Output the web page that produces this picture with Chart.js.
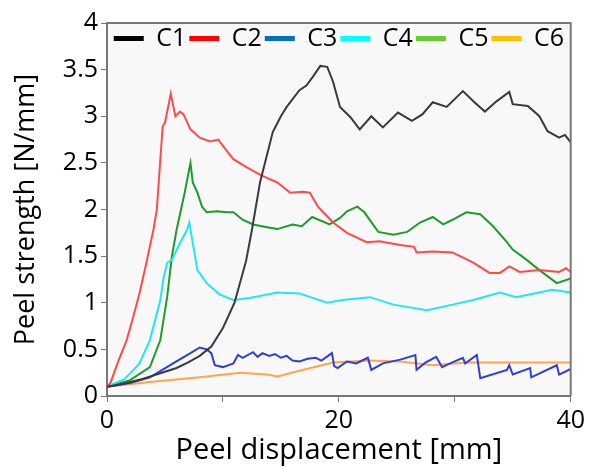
<!DOCTYPE html>
<html>
<head>
<meta charset="utf-8">
<script src="https://cdn.jsdelivr.net/npm/chart.js@4"></script>
<style>
  html, body { margin: 0; padding: 0; background: #fff; }
  #wrap { width: 589px; height: 468px; }
</style>
</head>
<body>
<div id="wrap"><canvas id="myChart" width="589" height="468"></canvas></div>
<script>
// values
const seriesNames = ["C1", "C2", "C3", "C4", "C5", "C6"];

const c1X = [0, 1, 2, 3, 4, 5, 6, 7, 8, 9, 10, 11, 12, 12.5, 13.2, 14.3, 15, 15.5, 16.6, 17.2, 17.8, 18.4, 19, 19.5, 20.1, 21, 21.8, 22.8, 23.8, 25.1, 26.3, 27.2, 28.1, 29.3, 30.7, 31.6, 32.6, 33.6, 34.7, 35, 36.3, 37.3, 38, 39, 39.5, 40];
const c1Y = [0.1, 0.12, 0.15, 0.18, 0.22, 0.26, 0.3, 0.36, 0.43, 0.53, 0.73, 1.0, 1.45, 1.78, 2.29, 2.83, 3.0, 3.1, 3.28, 3.33, 3.43, 3.54, 3.53, 3.37, 3.1, 2.99, 2.86, 3.0, 2.88, 3.04, 2.95, 3.02, 3.15, 3.1, 3.27, 3.16, 3.05, 3.16, 3.26, 3.13, 3.11, 3.0, 2.84, 2.77, 2.8, 2.72];

const c2X = [0, 0.3, 0.9, 1.7, 2.2, 2.8, 3.4, 4, 4.3, 4.8, 5, 5.5, 5.9, 6.3, 6.6, 7.2, 8, 8.9, 9.6, 10.2, 10.9, 12.1, 13.4, 14.7, 15.8, 16.9, 17.5, 18.2, 19.5, 20.7, 22.4, 23.5, 25.3, 26.5, 26.7, 28.1, 29.8, 31.6, 33, 33.9, 34.7, 35.6, 37.3, 39, 39.6, 40];
const c2Y = [0.1, 0.14, 0.35, 0.6, 0.82, 1.1, 1.43, 1.78, 2.0, 2.89, 2.93, 3.24, 3.0, 3.05, 3.02, 2.86, 2.77, 2.73, 2.75, 2.65, 2.54, 2.45, 2.36, 2.29, 2.18, 2.19, 2.18, 2.03, 1.86, 1.75, 1.65, 1.66, 1.62, 1.6, 1.54, 1.55, 1.54, 1.43, 1.32, 1.32, 1.39, 1.33, 1.35, 1.33, 1.37, 1.33];

const c3X = [0, 2, 3.7, 5.7, 7.2, 8, 8.6, 9, 9.3, 10, 10.9, 11.3, 11.7, 12.6, 13, 13.4, 14, 14.5, 15, 15.5, 16, 16.6, 17.3, 18, 18.5, 19.4, 19.6, 19.9, 20.7, 21.5, 22.5, 22.8, 23.8, 25.3, 26.6, 26.7, 27.5, 28.4, 28.9, 29.6, 30.7, 30.9, 31.9, 32.2, 34.5, 34.7, 35, 36.5, 36.6, 38.8, 39, 40];
const c3Y = [0.1, 0.14, 0.2, 0.35, 0.46, 0.52, 0.5, 0.46, 0.33, 0.31, 0.35, 0.44, 0.41, 0.47, 0.42, 0.46, 0.43, 0.45, 0.41, 0.43, 0.38, 0.37, 0.4, 0.41, 0.38, 0.46, 0.32, 0.3, 0.37, 0.35, 0.41, 0.28, 0.35, 0.39, 0.44, 0.28, 0.36, 0.42, 0.31, 0.35, 0.41, 0.35, 0.44, 0.19, 0.28, 0.33, 0.23, 0.3, 0.2, 0.33, 0.23, 0.29];

const c4X = [0, 1.5, 2.2, 2.8, 3.7, 4.6, 4.9, 5.2, 5.6, 6.3, 6.9, 7.1, 7.4, 7.8, 8.6, 9.7, 10.9, 12.3, 14.7, 16.6, 19, 20.3, 22.7, 24.7, 27.6, 29.8, 31.6, 33.9, 35.3, 38.4, 40];
const c4Y = [0.1, 0.18, 0.27, 0.35, 0.6, 1.03, 1.28, 1.43, 1.46, 1.64, 1.78, 1.86, 1.64, 1.35, 1.21, 1.09, 1.03, 1.05, 1.11, 1.1, 1.0, 1.03, 1.06, 0.98, 0.92, 0.98, 1.03, 1.11, 1.06, 1.14, 1.11];

const c5X = [0, 2, 3.7, 4.6, 5.2, 5.6, 6, 6.7, 7.2, 7.4, 7.8, 8.2, 8.6, 9.5, 10.3, 10.9, 11.7, 12.6, 13.8, 14.7, 16, 16.8, 17.7, 19.2, 20.1, 20.7, 21.6, 22.2, 23.4, 24.7, 25.9, 27, 28.1, 29, 29.8, 31, 32.2, 33.3, 34.5, 35, 36.2, 37.3, 38.8, 40];
const c5Y = [0.1, 0.17, 0.31, 0.6, 1.07, 1.5, 1.78, 2.18, 2.5, 2.29, 2.18, 2.03, 1.97, 1.98, 1.97, 1.97, 1.89, 1.84, 1.81, 1.79, 1.84, 1.82, 1.92, 1.84, 1.91, 1.98, 2.03, 1.97, 1.76, 1.73, 1.76, 1.86, 1.92, 1.84, 1.89, 1.97, 1.95, 1.82, 1.65, 1.57, 1.46, 1.35, 1.21, 1.26];

const c6X = [0, 3.7, 8, 11.5, 13.8, 14.7, 16.6, 19.5, 22.4, 25.3, 28.1, 31, 40];
const c6Y = [0.1, 0.15, 0.2, 0.25, 0.23, 0.21, 0.27, 0.36, 0.38, 0.37, 0.33, 0.36, 0.36];

const xTicks = [0, 20, 40];

const lineColors = ["#3a3a3a", "#ff4a4a", "#2f3fd6", "#1ee8f2", "#1f9a2e", "#ffa54a"];
const legendColors = ["#000000", "#ff0000", "#0070c0", "#00ffff", "#66cc33", "#ffc000"];

const allX = [c1X, c2X, c3X, c4X, c5X, c6X];
const allY = [c1Y, c2Y, c3Y, c4Y, c5Y, c6Y];

const font = "'Open Sans', sans-serif";

const datasets = seriesNames.map((name, i) => ({
  label: name,
  data: allX[i].map((x, j) => ({ x: x, y: allY[i][j] })),
  borderColor: lineColors[i],
  backgroundColor: legendColors[i],
  borderWidth: 2,
  pointRadius: 0,
  tension: 0,
  fill: false
}));

// legend sits inside the plot, so it takes no layout room
const legendInside = {
  id: "legendInside",
  beforeInit(chart) {
    const fit = chart.legend.fit;
    chart.legend.fit = function () {
      fit.bind(chart.legend)();
      this.height = 0;
    };
  },
  afterLayout(chart) {
    // give it its height back so it is not clipped away
    chart.legend.height = 40;
    chart.legend.bottom = chart.legend.top + 40;
  },
  beforeDraw(chart) {
    const { ctx, chartArea } = chart;
    ctx.save();
    ctx.fillStyle = "#f8f8f8";
    ctx.fillRect(chartArea.left, chartArea.top, chartArea.right - chartArea.left, chartArea.bottom - chartArea.top);
    ctx.restore();
  },
  afterDraw(chart) {
    const { ctx, chartArea } = chart;
    ctx.save();
    ctx.strokeStyle = "#777";
    ctx.lineWidth = 2;
    ctx.beginPath();
    ctx.moveTo(chartArea.left, chartArea.top);
    ctx.lineTo(chartArea.right, chartArea.top);
    ctx.lineTo(chartArea.right, chartArea.bottom);
    ctx.stroke();
    ctx.restore();
  }
};

new Chart(document.getElementById("myChart"), {
  type: "line",
  data: { datasets: datasets },
  options: {
    responsive: false,
    animation: false,
    layout: { padding: { left: 6, right: 18, top: 23, bottom: 0 } },
    plugins: {
      legend: {
        position: "top",
        fullSize: false,
        labels: {
          boxWidth: 30,
          boxHeight: 5,
          padding: 3,
          color: "#000",
          font: { family: font, size: 25 },
          generateLabels(chart) {
            const items = Chart.defaults.plugins.legend.labels.generateLabels(chart);
            items.forEach((it, i) => {
              it.fillStyle = legendColors[i];
              it.strokeStyle = legendColors[i];
              it.lineWidth = 0;
            });
            return items;
          }
        }
      },
      tooltip: { enabled: false }
    },
    scales: {
      x: {
        type: "linear",
        min: 0,
        max: 40,
        afterFit(s) { s.height = 72; },
        border: { color: "#777", width: 2 },
        grid: { drawOnChartArea: false, tickLength: 6, color: "#777" },
        ticks: {
          stepSize: 10,
          padding: 4,
          color: "#000",
          font: { family: font, size: 25 },
          callback: v => (xTicks.includes(v) ? String(v) : "")
        },
        title: {
          display: true,
          text: "Peel displacement [mm]",
          color: "#000",
          font: { family: font, size: 29 },
          padding: { top: 0, bottom: 0 }
        }
      },
      y: {
        min: 0,
        max: 4,
        afterFit(s) { s.width = 101; },
        border: { color: "#777", width: 2 },
        grid: { drawOnChartArea: false, tickLength: 6, color: "#777" },
        ticks: {
          stepSize: 0.25,
          padding: 3,
          color: "#000",
          font: { family: font, size: 25 },
          callback: v => (Math.abs(v * 2 - Math.round(v * 2)) < 1e-9 ? String(v) : "")
        },
        title: {
          display: true,
          text: "Peel strength [N/mm]",
          color: "#000",
          font: { family: font, size: 27 },
          padding: { top: 4, bottom: 0 }
        }
      }
    }
  },
  plugins: [legendInside]
});
</script>
</body>
</html>
